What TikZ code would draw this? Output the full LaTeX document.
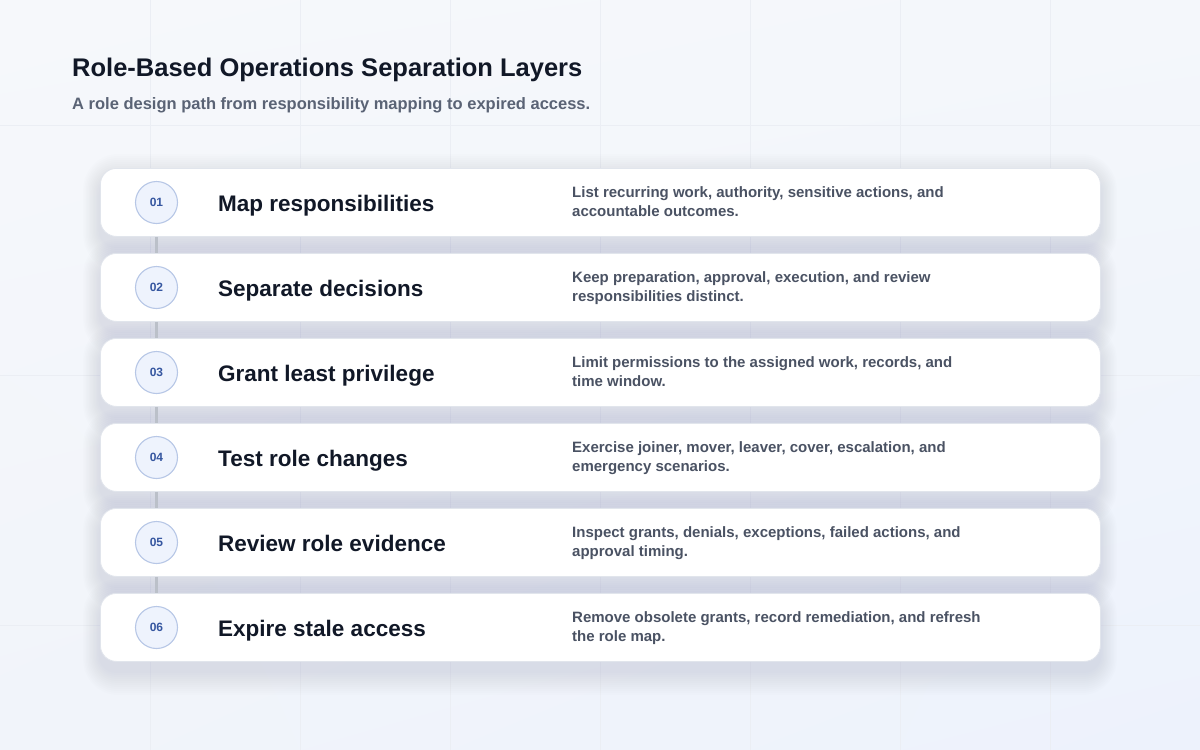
\documentclass[tikz,border=0pt]{standalone}
\usepackage{fontspec}
\setmainfont{Liberation Sans}
\usetikzlibrary{shadings}
\definecolor{bgTL}{HTML}{F6F8FB}
\definecolor{bgTR}{HTML}{F4F7FB}
\definecolor{bgBL}{HTML}{F1F4FA}
\definecolor{bgBR}{HTML}{EDF2FC}
\definecolor{gridc}{HTML}{EBEEF4}
\definecolor{ink}{HTML}{111827}
\definecolor{subink}{HTML}{5A6375}
\definecolor{descink}{HTML}{4A5263}
\definecolor{numtext}{HTML}{3556A0}
\definecolor{numfill}{HTML}{EEF3FD}
\definecolor{numline}{HTML}{B7C7E6}
\definecolor{cardline}{HTML}{E1E5EC}
\definecolor{linkc}{HTML}{BBC0C9}
\definecolor{shadowc}{HTML}{6A7896}
\tikzset{
  cardbox/.style={draw=cardline, line width=0.8pt, fill=white, rounded corners=16pt,
    minimum width=1000pt, minimum height=68pt, anchor=north west, inner sep=0pt},
  numc/.style={circle, draw=numline, fill=numfill, line width=1.1pt, minimum size=42pt,
    inner sep=0pt, font=\bfseries\fontsize{12}{14}\selectfont, text=numtext},
  steptitle/.style={anchor=base west, font=\bfseries\fontsize{22.5}{26}\selectfont, text=ink, inner sep=0pt},
  stepdesc/.style={anchor=base west, align=left, font=\bfseries\fontsize{15}{19}\selectfont, text=descink, inner sep=0pt},
  linkline/.style={draw=linkc, line width=3.5pt},
  headtitle/.style={anchor=base west, font=\bfseries\fontsize{25.5}{29}\selectfont, text=ink, inner sep=0pt},
  headsub/.style={anchor=base west, font=\bfseries\fontsize{16.5}{19}\selectfont, text=subink, inner sep=0pt},
}
\begin{document}
\begin{tikzpicture}[x=1pt,y=-1pt]
\useasboundingbox (0,0) rectangle (1200,750);
\shade[upper left=bgTL, upper right=bgTR, lower left=bgBL, lower right=bgBR] (0,0) rectangle (1200,750);
% faint grid
\foreach \gx in {150,300,...,1050} { \draw[gridc, line width=0.8pt] (\gx,0) -- (\gx,750); }
\foreach \gy in {125,375,625} { \draw[gridc, line width=0.8pt] (0,\gy) -- (1200,\gy); }
% shadows
\foreach \ty in {168,253,338,423,508,593} {
  \foreach \i in {1,...,12} {
    \fill[shadowc, opacity=0.013, rounded corners={16pt+\i*1.6pt}]
      (100-\i*1.4, \ty+10-\i*2) rectangle (1100+\i*1.4, \ty+68+10+\i*2);
  }
}
% header
\node[headtitle] (title) at (72,76) {Role-Based Operations Separation Layers};
\node[headsub] (subtitle) at (72,109.5) {A role design path from responsibility mapping to expired access.};
% cards
\foreach \k/\ty/\ttl/\dsc in {
  1/168/{Map responsibilities}/{List recurring work, authority, sensitive actions, and\\accountable outcomes.},
  2/253/{Separate decisions}/{Keep preparation, approval, execution, and review\\responsibilities distinct.},
  3/338/{Grant least privilege}/{Limit permissions to the assigned work, records, and\\time window.},
  4/423/{Test role changes}/{Exercise joiner, mover, leaver, cover, escalation, and\\emergency scenarios.},
  5/508/{Review role evidence}/{Inspect grants, denials, exceptions, failed actions, and\\approval timing.},
  6/593/{Expire stale access}/{Remove obsolete grants, record remediation, and refresh\\the role map.}} {
  \node[cardbox] (card\k) at (100,\ty) {};
  \node[numc] (num\k) at (156.5,\ty+34.5) {0\k};
  \node[steptitle] (ttl\k) at (218,\ty+43.7) {\ttl};
  \node[stepdesc] (dsc\k) at (572,\ty+48) {\dsc};
}
% connectors
\foreach \a/\b in {1/2,2/3,3/4,4/5,5/6} {
  \draw[linkline] (card\a.south -| num\a) -- (card\b.north -| num\b);
}
\end{tikzpicture}
\end{document}
